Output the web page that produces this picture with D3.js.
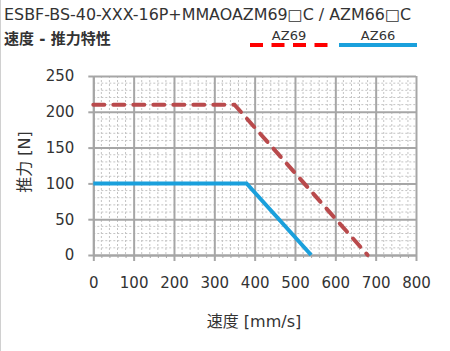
<!DOCTYPE html>
<html>
<head>
<meta charset="utf-8">
<script src="https://cdn.jsdelivr.net/npm/d3@7"></script>
<style>
  body { margin: 0; background: #fff; }
  svg { display: block; }
  text { font-family: "DejaVu Sans", Verdana, sans-serif; fill: #333; }
  .cjk { font-family: "Noto Sans CJK JP", "DejaVu Sans", sans-serif; }
  .lat { font-family: "DejaVu Sans", Verdana, sans-serif; }
</style>
</head>
<body>
<svg id="chart"></svg>
<script>
let speedTicks = [0, 100, 200, 300, 400, 500, 600, 700, 800];
let forceTicks = [0, 50, 100, 150, 200, 250];

// speed [mm/s], force [N]
let az69Speed = [0, 350, 680];
let az69Force = [210, 210, 0];
let az66Speed = [0, 380, 540];
let az66Force = [100, 100, 0];

let width = 450, height = 351;
let svg = d3.select('#chart').attr('width', width).attr('height', height);

let plot = { left: 93.3, right: 416, top: 76, bottom: 255 };

let x = d3.scaleLinear().domain([0, 800]).range([plot.left, plot.right]);
let y = d3.scaleLinear().domain([0, 250]).range([plot.bottom, plot.top]);

// left edge line
svg.append('line')
  .attr('x1', 0.5).attr('x2', 0.5).attr('y1', 0).attr('y2', height)
  .attr('stroke', '#d0d0d0').attr('stroke-width', 1);

// minor grid
svg.append('g').selectAll('line')
  .data(d3.range(0, 801, 20).filter(v => v % 100 !== 0))
  .enter().append('line')
  .attr('x1', d => x(d)).attr('x2', d => x(d))
  .attr('y1', plot.top).attr('y2', plot.bottom)
  .attr('stroke', '#c4c4c4').attr('stroke-width', 1)
  .attr('stroke-dasharray', '2,2');

svg.append('g').selectAll('line')
  .data(d3.range(0, 251, 10).filter(v => v % 50 !== 0))
  .enter().append('line')
  .attr('x1', plot.left).attr('x2', plot.right)
  .attr('y1', d => y(d)).attr('y2', d => y(d))
  .attr('stroke', '#c4c4c4').attr('stroke-width', 1)
  .attr('stroke-dasharray', '2,2');

// major grid
svg.append('g')
  .attr('transform', `translate(0, ${plot.bottom})`)
  .call(d3.axisBottom(x).tickValues(speedTicks).tickSize(-(plot.bottom - plot.top)).tickFormat(''))
  .call(g => g.select('.domain').remove())
  .call(g => g.selectAll('line').attr('stroke', '#a6a6a6').attr('stroke-width', 2));

svg.append('g')
  .attr('transform', `translate(${plot.left}, 0)`)
  .call(d3.axisLeft(y).tickValues(forceTicks).tickSize(-(plot.right - plot.left)).tickFormat(''))
  .call(g => g.select('.domain').remove())
  .call(g => g.selectAll('line').attr('stroke', '#a6a6a6').attr('stroke-width', 2));

// minor ticks
svg.append('g')
  .attr('transform', `translate(0, ${plot.bottom})`)
  .call(d3.axisBottom(x).tickValues(d3.range(0, 801, 20)).tickSize(3).tickFormat(''))
  .call(g => g.select('.domain').remove())
  .call(g => g.selectAll('line').attr('stroke', '#a6a6a6').attr('stroke-width', 1));

// axes
svg.append('g')
  .attr('transform', `translate(0, ${plot.bottom})`)
  .call(d3.axisBottom(x).tickValues(speedTicks).tickSize(6).tickSizeOuter(0).tickPadding(16.5))
  .call(g => g.select('.domain').attr('stroke', '#a6a6a6').attr('stroke-width', 2))
  .call(g => g.selectAll('line').attr('stroke', '#a6a6a6').attr('stroke-width', 2))
  .call(g => g.selectAll('text').attr('font-size', 15).attr('fill', '#333'));

svg.append('g')
  .attr('transform', `translate(${plot.left}, 0)`)
  .call(d3.axisLeft(y).tickValues(forceTicks).tickSize(5).tickSizeOuter(0).tickPadding(14))
  .call(g => g.select('.domain').attr('stroke', '#a6a6a6').attr('stroke-width', 2))
  .call(g => g.selectAll('line').attr('stroke', '#a6a6a6').attr('stroke-width', 2))
  .call(g => g.selectAll('text').attr('font-size', 15).attr('fill', '#333'));

svg.selectAll('.tick text').style('font-family', '"DejaVu Sans", Verdana, sans-serif');

// series
let line = d3.line().x(d => x(d[0])).y(d => y(d[1]));

svg.append('path')
  .datum(az66Speed.map((s, i) => [s, az66Force[i]]))
  .attr('d', line)
  .attr('fill', 'none')
  .attr('stroke', '#1aa0dc')
  .attr('stroke-width', 4);

svg.append('path')
  .datum(az69Speed.map((s, i) => [s, az69Force[i]]))
  .attr('d', line)
  .attr('fill', 'none')
  .attr('stroke', '#b94a4c')
  .attr('stroke-width', 4)
  .attr('stroke-linecap', 'round')
  .attr('stroke-dasharray', '11,9');

// titles
svg.append('text')
  .attr('x', 4).attr('y', 20)
  .attr('font-size', 15)
  .attr('textLength', 407)
  .attr('lengthAdjust', 'spacingAndGlyphs')
  .text('ESBF-BS-40-XXX-16P+MMAOAZM69□C / AZM66□C');

let sub = svg.append('text')
  .attr('x', 4).attr('y', 44)
  .attr('font-size', 15)
  .attr('font-weight', 'bold');
sub.append('tspan').attr('class', 'cjk').text('速度');
sub.append('tspan').attr('class', 'lat').text(' - ');
sub.append('tspan').attr('class', 'cjk').text('推力特性');

// legend
svg.append('line')
  .attr('x1', 250).attr('x2', 329).attr('y1', 45).attr('y2', 45)
  .attr('stroke', '#ff0000').attr('stroke-width', 4)
  .attr('stroke-dasharray', '13,8.5');
svg.append('text')
  .attr('x', 289).attr('y', 40).attr('text-anchor', 'middle')
  .attr('font-size', 13).text('AZ69');

svg.append('line')
  .attr('x1', 339).attr('x2', 417).attr('y1', 45).attr('y2', 45)
  .attr('stroke', '#1aa0dc').attr('stroke-width', 4);
svg.append('text')
  .attr('x', 378).attr('y', 40).attr('text-anchor', 'middle')
  .attr('font-size', 13).text('AZ66');

// axis titles
let xt = svg.append('text')
  .attr('x', 254).attr('y', 327)
  .attr('text-anchor', 'middle')
  .attr('font-size', 16);
xt.append('tspan').attr('class', 'cjk').text('速度');
xt.append('tspan').attr('class', 'lat').text(' [mm/s]');

let yt = svg.append('text')
  .attr('transform', `translate(30, 162) rotate(-90)`)
  .attr('text-anchor', 'middle')
  .attr('font-size', 16);
yt.append('tspan').attr('class', 'cjk').text('推力');
yt.append('tspan').attr('class', 'lat').text(' [N]');
</script>
</body>
</html>
